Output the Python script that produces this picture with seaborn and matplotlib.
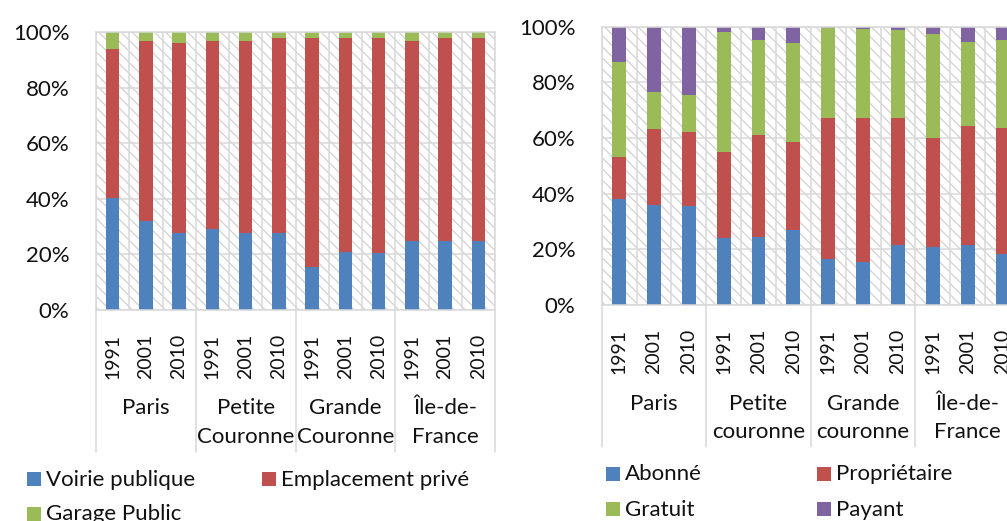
import numpy as np
import pandas as pd
import seaborn as sns
import matplotlib
matplotlib.use("Agg")
import matplotlib.pyplot as plt
from matplotlib.patches import Rectangle
from matplotlib.transforms import blended_transform_factory

# data (percent shares)
years = ["1991", "2001", "2010"]
regions_left = ["Paris", "Petite\nCouronne", "Grande\nCouronne", "Île-de-\nFrance"]
regions_right = ["Paris", "Petite\ncouronne", "Grande\ncouronne", "Île-de-\nFrance"]

voirie_publique = [40.2, 32.1, 27.8, 29.0, 27.8, 27.8, 15.6, 21.0, 20.6, 24.7, 24.9, 24.9]
emplacement_prive = [53.7, 64.8, 68.2, 67.9, 69.1, 70.0, 82.2, 76.8, 77.2, 72.2, 72.9, 72.9]
garage_public = [6.1, 3.1, 4.0, 3.1, 3.1, 2.2, 2.2, 2.2, 2.2, 3.1, 2.2, 2.2]

abonne = [38.0, 35.8, 35.4, 24.0, 24.6, 26.8, 16.4, 15.3, 21.4, 20.7, 21.6, 18.2]
proprietaire = [15.3, 27.6, 26.9, 30.9, 36.6, 31.9, 50.7, 52.0, 45.9, 39.4, 42.8, 45.4]
gratuit = [33.9, 13.1, 13.3, 43.2, 33.9, 35.6, 32.5, 31.7, 31.4, 37.4, 30.0, 31.8]
payant = [12.8, 23.5, 24.4, 1.9, 4.9, 5.7, 0.4, 1.0, 1.3, 2.5, 5.6, 4.6]

BLUE, RED, GREEN, PURPLE = "#4F81BD", "#C0504D", "#9BBB59", "#8064A2"
GRID = "#D9D9D9"
TEXT = "#111111"

sns.set_style("white")
plt.rcParams["font.family"] = ["Lato", "DejaVu Sans"]
plt.rcParams["hatch.linewidth"] = 0.9

W, H = 1007, 521
fig = plt.figure(figsize=(W / 100, H / 100), dpi=100)


def stacked(ax, series, colors):
    cats = [f"{g}-{y}" for g in range(4) for y in years]
    cum = np.cumsum(np.array(series), axis=0)
    # draw from the top of the stack down so the lower segments cover the upper ones
    for i in reversed(range(len(series))):
        df = pd.DataFrame({"cat": cats, "val": cum[i]})
        sns.barplot(data=df, x="cat", y="val", order=cats, color=colors[i], width=0.4,
                    saturation=1, linewidth=0, errorbar=None, ax=ax, zorder=2)


def style(ax, regions, year_pad, base1, base2, div_bottom):
    ax.set_xlim(-0.5, 11.5)
    ax.set_ylim(0, 100)
    ax.set_xlabel("")
    ax.set_ylabel("")
    ax.set_yticks(range(0, 101, 20))
    ax.set_yticklabels([f"{v}%" for v in range(0, 101, 20)], fontsize=16, color=TEXT)
    ax.set_xticks(range(12))
    ax.set_xticklabels(years * 4, rotation=90, fontsize=14, color=TEXT)
    ax.set_xticks(np.arange(-0.5, 12, 1), minor=True)
    ax.tick_params(which="both", length=0)
    ax.tick_params(axis="y", pad=19)
    ax.tick_params(axis="x", pad=year_pad)
    ax.set_axisbelow(True)
    ax.grid(axis="y", which="major", color=GRID, lw=1.1)
    ax.grid(axis="x", which="minor", color=GRID, lw=1.1)
    ax.grid(axis="x", which="major", visible=False)
    for s in ax.spines.values():
        s.set_color(GRID)
        s.set_linewidth(1.1)
    ax.add_patch(Rectangle((0, 0), 1, 1, transform=ax.transAxes, facecolor="white",
                           edgecolor="#D2D2D2", hatch="\\\\\\", lw=0, zorder=0))
    # two-level category axis: dividers between regions and region names
    tr = blended_transform_factory(ax.transData, fig.transFigure)
    y0 = ax.get_position().y0
    for k in range(5):
        x = 3 * k - 0.5
        ax.plot([x, x], [y0, 1 - div_bottom / H], transform=tr, color=GRID, lw=1.1,
                clip_on=False)
    for k, name in enumerate(regions):
        for j, line in enumerate(name.split("\n")):
            ax.text(3 * k + 1, 1 - [base1, base2][j] / H, line, transform=tr, ha="center",
                    va="baseline", fontsize=16, color=TEXT)


def legend(entries, xs, ys, size=14):
    for (label, color), x, y in zip(entries, xs, ys):
        fig.add_artist(Rectangle((x / W, 1 - (y + size) / H), size / W, size / H,
                                 transform=fig.transFigure, facecolor=color, lw=0))
        fig.text((x + size + 5) / W, 1 - (y + size) / H, label, fontsize=16,
                 color=TEXT, va="baseline", ha="left")


# left chart
ax1 = fig.add_axes([96 / W, 1 - 310 / H, 399 / W, 278 / H])
stacked(ax1, [voirie_publique, emplacement_prive, garage_public], [BLUE, RED, GREEN])
style(ax1, regions_left, 17, 414, 443, 452)
legend([("Voirie publique", BLUE), ("Emplacement privé", RED), ("Garage Public", GREEN)],
       [27, 262, 27], [471.5, 471.5, 506.5])

# right chart (runs past the right edge of the image, as in the original)
ax2 = fig.add_axes([601.7 / W, 1 - 305 / H, 418.2 / W, 278.3 / H])
stacked(ax2, [abonne, proprietaire, gratuit, payant], [BLUE, RED, GREEN, PURPLE])
style(ax2, regions_right, 17, 410, 438, 447)
legend([("Abonné", BLUE), ("Propriétaire", RED), ("Gratuit", GREEN), ("Payant", PURPLE)],
       [606, 817, 606, 817], [466.5, 466.5, 502, 502])

fig.savefig("out.png", dpi=100)
